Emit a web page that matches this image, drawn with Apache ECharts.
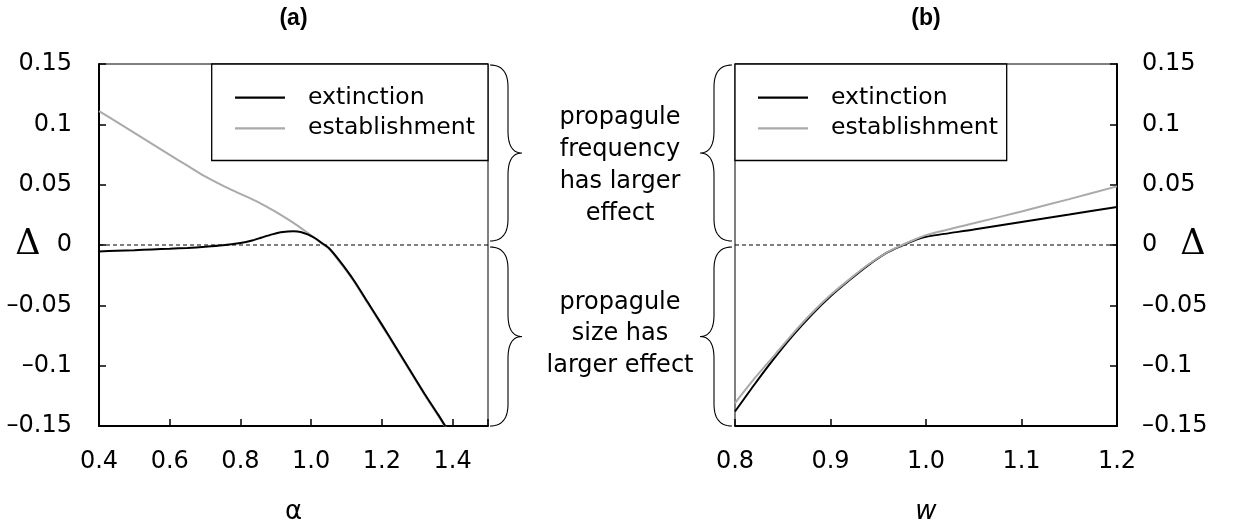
<!DOCTYPE html>
<html>
<head>
<meta charset="utf-8">
<script src="https://cdn.jsdelivr.net/npm/echarts@6/dist/echarts.min.js"></script>
<style>
html,body{margin:0;padding:0;background:#fff;}
#main{width:1233px;height:525px;}
</style>
</head>
<body>
<div id="main"></div>
<script>
// ---- data ----
const seriesNames = ['extinction', 'establishment'];
const panelTitles = ['(a)', '(b)'];
const yTickLabels = ['\u20130.15', '\u20130.1', '\u20130.05', '0', '0.05', '0.1', '0.15'];
const alphaTickLabels = ['0.4', '0.6', '0.8', '1.0', '1.2', '1.4'];
const wTickLabels = ['0.8', '0.9', '1.0', '1.1', '1.2'];

// panel (a): Delta vs alpha
const alphaExtinction = [
  [0.40, -0.0053], [0.45, -0.0048], [0.50, -0.0043], [0.55, -0.0037], [0.60, -0.0031],
  [0.65, -0.0024], [0.70, -0.0015], [0.75, -0.0003], [0.80, 0.0017], [0.83, 0.0035],
  [0.86, 0.0062], [0.89, 0.0088], [0.92, 0.0107], [0.95, 0.0113], [0.97, 0.0108],
  [0.99, 0.0088], [1.01, 0.0058], [1.03, 0.0017], [1.05, -0.0025], [1.08, -0.0130],
  [1.12, -0.0290], [1.16, -0.0475], [1.20, -0.0660], [1.24, -0.0850], [1.28, -0.1040],
  [1.32, -0.1230], [1.36, -0.1410], [1.38, -0.1505]
];
const alphaEstablishment = [
  [0.40, 0.1110], [0.45, 0.1020], [0.50, 0.0930], [0.55, 0.0838], [0.60, 0.0747],
  [0.65, 0.0657], [0.70, 0.0568], [0.75, 0.0492], [0.80, 0.0424], [0.85, 0.0356],
  [0.90, 0.0274], [0.95, 0.0183], [0.98, 0.0122], [1.00, 0.0080], [1.03, 0.0012],
  [1.05, -0.0030], [1.08, -0.0138], [1.12, -0.0298], [1.16, -0.0483], [1.20, -0.0668],
  [1.24, -0.0858], [1.28, -0.1048], [1.32, -0.1238], [1.36, -0.1418], [1.38, -0.1510]
];

// panel (b): Delta vs w
const wExtinction = [
  [0.80, -0.1380], [0.82, -0.1160], [0.84, -0.0950], [0.86, -0.0755], [0.88, -0.0580],
  [0.90, -0.0425], [0.92, -0.0290], [0.94, -0.0165], [0.96, -0.0060], [0.975, -0.0005],
  [0.99, 0.0045], [1.00, 0.0068], [1.05, 0.0128], [1.10, 0.0190], [1.15, 0.0252],
  [1.20, 0.0315]
];
const wEstablishment = [
  [0.80, -0.1310], [0.82, -0.1110], [0.84, -0.0925], [0.86, -0.0740], [0.88, -0.0568],
  [0.90, -0.0415], [0.92, -0.0283], [0.94, -0.0160], [0.96, -0.0058], [0.975, 0.0000],
  [0.99, 0.0052], [1.00, 0.0082], [1.05, 0.0180], [1.10, 0.0278], [1.15, 0.0380],
  [1.20, 0.0486]
];

// reference line Delta = 0 across each panel
const zeroLineA = [[0.4, 0], [1.5, 0]];
const zeroLineB = [[0.8, 0], [1.2, 0]];

// ---- chart ----
const FONT = '"DejaVu Sans", "Liberation Sans", sans-serif';
const BLACK = '#000000';
const GRAY = '#aaaaaa';

function labelFormatter(labels, min, interval) {
  return function (v) {
    const idx = Math.round((v - min) / interval);
    if (Math.abs(v - (min + idx * interval)) > 1e-6) return '';
    return labels[idx] !== undefined ? labels[idx] : '';
  };
}

const chart = echarts.init(document.getElementById('main'), null, { renderer: 'canvas' });

const axisLineStyle = { show: true, onZero: false, lineStyle: { color: BLACK, width: 2 } };
const axisTickStyle = { show: true, inside: true, length: 7, lineStyle: { color: BLACK, width: 1.5 } };
const labelStyle = { color: BLACK, fontFamily: FONT, fontSize: 24 };

function lineSeries(name, data, color, xi, z) {
  return {
    name: name,
    type: 'line',
    xAxisIndex: xi,
    yAxisIndex: xi,
    data: data,
    showSymbol: false,
    smooth: 0.25,
    color: color,
    itemStyle: { color: color },
    lineStyle: { color: color, width: 2 },
    z: z,
    animation: false
  };
}
function zeroSeries(data, xi) {
  return {
    name: 'zero',
    type: 'line',
    xAxisIndex: xi,
    yAxisIndex: xi,
    data: data,
    showSymbol: false,
    silent: true,
    color: BLACK,
    lineStyle: { color: BLACK, width: 1.2, type: [4, 3] },
    z: 2,
    animation: false
  };
}

const legendCommon = {
  orient: 'vertical',
  icon: 'rect',
  itemWidth: 50,
  itemHeight: 2.2,
  itemGap: 0.6,
  padding: 0,
  selectedMode: false,
  data: seriesNames,
  textStyle: {
    color: BLACK, fontFamily: FONT, fontSize: 23.5, lineHeight: 30,
    padding: [0, 0, 0, 18]
  }
};

const gridCommon = { show: true, borderColor: '#000', borderWidth: 1, containLabel: false, outerBoundsMode: 'none' };
const nameCommon = { nameMoveOverlap: false };

const option = {
  animation: false,
  backgroundColor: '#ffffff',
  legend: [
    Object.assign({}, legendCommon, { left: 235, top: 82.7 }),
    Object.assign({}, legendCommon, { left: 758, top: 82.7 })
  ],
  grid: [
    Object.assign({ left: 99, top: 64, width: 389, height: 362 }, gridCommon),
    Object.assign({ left: 735, top: 64, width: 382, height: 362 }, gridCommon)
  ],
  xAxis: [
    Object.assign({
      type: 'value', gridIndex: 0, min: 0.4, max: 1.5, interval: 0.2,
      position: 'bottom',
      name: '\u03b1', nameLocation: 'middle', nameGap: 86,
      nameTextStyle: { fontFamily: FONT, fontSize: 26, color: BLACK, verticalAlign: 'middle', align: 'center' },
      axisLine: axisLineStyle, axisTick: axisTickStyle,
      axisLabel: Object.assign({ margin: 24, formatter: labelFormatter(alphaTickLabels, 0.4, 0.2) }, labelStyle),
      splitLine: { show: false }
    }, nameCommon),
    Object.assign({
      type: 'value', gridIndex: 1, min: 0.8, max: 1.2, interval: 0.1,
      position: 'bottom',
      name: 'w', nameLocation: 'middle', nameGap: 86,
      nameTextStyle: { fontFamily: FONT, fontStyle: 'italic', fontSize: 26, color: BLACK, verticalAlign: 'middle', align: 'center' },
      axisLine: axisLineStyle, axisTick: axisTickStyle,
      axisLabel: Object.assign({ margin: 24, formatter: labelFormatter(wTickLabels, 0.8, 0.1) }, labelStyle),
      splitLine: { show: false }
    }, nameCommon)
  ],
  yAxis: [
    Object.assign({
      type: 'value', gridIndex: 0, min: -0.15, max: 0.15, interval: 0.05,
      position: 'left',
      name: '\u0394', nameLocation: 'middle', nameGap: 71, nameRotate: 0,
      nameTextStyle: { fontFamily: '"DejaVu Serif", "Liberation Serif", serif', fontSize: 35, color: BLACK, align: 'center', verticalAlign: 'middle' },
      axisLine: axisLineStyle, axisTick: axisTickStyle,
      axisLabel: Object.assign({ margin: 27, formatter: labelFormatter(yTickLabels, -0.15, 0.05) }, labelStyle),
      splitLine: { show: false }
    }, nameCommon),
    Object.assign({
      type: 'value', gridIndex: 1, min: -0.15, max: 0.15, interval: 0.05,
      position: 'right',
      name: '\u0394', nameLocation: 'middle', nameGap: 76, nameRotate: 0,
      nameTextStyle: { fontFamily: '"DejaVu Serif", "Liberation Serif", serif', fontSize: 35, color: BLACK, align: 'center', verticalAlign: 'middle' },
      axisLine: axisLineStyle, axisTick: axisTickStyle,
      axisLabel: Object.assign({ margin: 25, formatter: labelFormatter(yTickLabels, -0.15, 0.05) }, labelStyle),
      splitLine: { show: false }
    }, nameCommon)
  ],
  series: [
    zeroSeries(zeroLineA, 0),
    zeroSeries(zeroLineB, 1),
    lineSeries('establishment', alphaEstablishment, GRAY, 0, 3),
    lineSeries('extinction', alphaExtinction, BLACK, 0, 4),
    lineSeries('extinction', wExtinction, BLACK, 1, 3),
    lineSeries('establishment', wEstablishment, GRAY, 1, 4)
  ]
};

chart.setOption(option);

// ---- annotations (titles, braces, legend frames, texts) positioned from the axes ----
const pA_top = chart.convertToPixel({ gridIndex: 0 }, [1.5, 0.15]);
const pA_zero = chart.convertToPixel({ gridIndex: 0 }, [1.5, 0]);
const pA_bot = chart.convertToPixel({ gridIndex: 0 }, [1.5, -0.15]);
const pA_left = chart.convertToPixel({ gridIndex: 0 }, [0.4, 0.15]);
const pB_top = chart.convertToPixel({ gridIndex: 1 }, [0.8, 0.15]);
const pB_right = chart.convertToPixel({ gridIndex: 1 }, [1.2, 0.15]);

function quadPts(p0, p1, p2, n) {
  const pts = [];
  for (let i = 1; i <= n; i++) {
    const t = i / n, u = 1 - t;
    pts.push([u * u * p0[0] + 2 * u * t * p1[0] + t * t * p2[0],
              u * u * p0[1] + 2 * u * t * p1[1] + t * t * p2[1]]);
  }
  return pts;
}
function bracePoints(x0, y1, y2, dir) {
  const xm = x0 + dir * 18;
  const xt = x0 + dir * 32;
  const ym = (y1 + y2) / 2;
  const r = 22;
  let pts = [[x0, y1]];
  pts = pts.concat(quadPts([x0, y1], [xm, y1], [xm, y1 + r], 14));
  pts.push([xm, ym - r]);
  pts = pts.concat(quadPts([xm, ym - r], [xm, ym], [xt, ym], 14));
  pts = pts.concat(quadPts([xt, ym], [xm, ym], [xm, ym + r], 14));
  pts.push([xm, y2 - r]);
  pts = pts.concat(quadPts([xm, y2 - r], [xm, y2], [x0, y2], 14));
  return pts;
}

const yT = pA_top[1], yZ = pA_zero[1], yB = pA_bot[1];
const xAR = pA_top[0], xBL = pB_top[0];
const braceStyle = { stroke: BLACK, fill: null, lineWidth: 1.1 };
const legendH = 96.5;
const midX = 620;
const annFont = '24px ' + FONT;

function titleText(x, text) {
  return { type: 'text', silent: true,
    style: { x: x, y: 19, text: text, fill: BLACK, align: 'center', verticalAlign: 'middle',
      fontSize: 23, fontWeight: 'bold', fontFamily: '"Liberation Sans", Arial, sans-serif' } };
}

const graphics = [
  { type: 'rect', z: 2, silent: true,
    shape: { x: pA_left[0] + 112.7, y: yT, width: xAR - (pA_left[0] + 112.7), height: legendH },
    style: { stroke: BLACK, fill: '#ffffff', lineWidth: 1.3 } },
  { type: 'rect', z: 2, silent: true,
    shape: { x: xBL, y: yT, width: 271.7, height: legendH },
    style: { stroke: BLACK, fill: '#ffffff', lineWidth: 1.3 } },
  { type: 'polyline', silent: true, shape: { points: bracePoints(xAR + 2, yT + 1, yZ - 4, 1) }, style: braceStyle },
  { type: 'polyline', silent: true, shape: { points: bracePoints(xAR + 2, yZ + 2, yB, 1) }, style: braceStyle },
  { type: 'polyline', silent: true, shape: { points: bracePoints(xBL - 3, yT + 1, yZ - 4, -1) }, style: braceStyle },
  { type: 'polyline', silent: true, shape: { points: bracePoints(xBL - 3, yZ + 2, yB, -1) }, style: braceStyle },
  { type: 'text', silent: true,
    style: { x: midX, y: 166, text: 'propagule\nfrequency\nhas larger\neffect', font: annFont,
      fill: BLACK, align: 'center', verticalAlign: 'middle', lineHeight: 32 } },
  { type: 'text', silent: true,
    style: { x: midX, y: 334, text: 'propagule\nsize has\nlarger effect', font: annFont,
      fill: BLACK, align: 'center', verticalAlign: 'middle', lineHeight: 31.5 } },
  titleText((pA_left[0] + xAR) / 2, panelTitles[0]),
  titleText((xBL + pB_right[0]) / 2, panelTitles[1])
];

chart.setOption({ graphic: graphics });
</script>
</body>
</html>
